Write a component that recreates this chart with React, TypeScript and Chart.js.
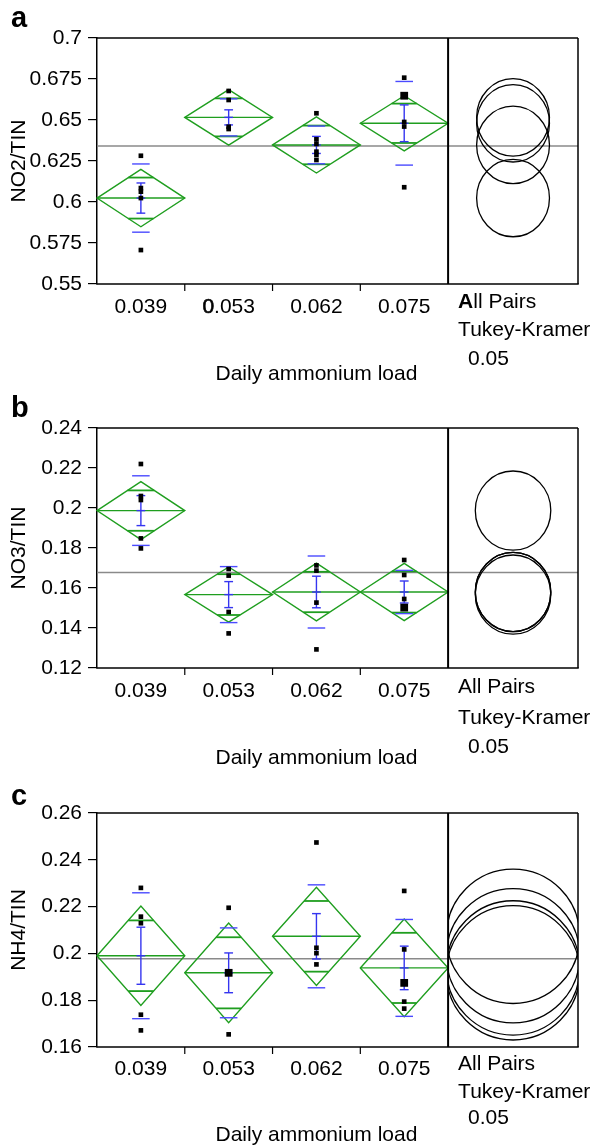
import React, { useEffect, useRef } from 'react';
import { Chart, registerables } from 'chart.js';
Chart.register(...registerables);

const FONT = '"Liberation Sans", Arial, Helvetica, sans-serif';
const FS = 21;

const loads = ['0.039', '0.053', '0.062', '0.075'];
const pairsLabels = ['All Pairs', 'Tukey-Kramer', '0.05'];
const xTitle = 'Daily ammonium load';

// ---- Panel a : NO2/TIN ----
const no2Ticks = [0.55, 0.575, 0.6, 0.625, 0.65, 0.675, 0.7];
const no2Points = [
  [0.6282, 0.6085, 0.6063, 0.6024, 0.5707],
  [0.6677, 0.6622, 0.6459, 0.6445],
  [0.6541, 0.6382, 0.6354, 0.6307, 0.6287, 0.6256],
  [0.6758, 0.6648, 0.6648, 0.6488, 0.646, 0.609],
];
const no2Mean = [0.6024, 0.6516, 0.6348, 0.648];
const no2CI = [0.0175, 0.0169, 0.0171, 0.0168];
const no2Overlap = [0.0125, 0.0116, 0.0118, 0.012];
const no2SE = [0.0092, 0.0046, 0.0052, 0.0112];
const no2SD = [0.0208, 0.0113, 0.0115, 0.0255];
const no2Grand = 0.6341;
const no2CircleR = 0.0236;

// ---- Panel b : NO3/TIN ----
const no3Ticks = [0.12, 0.14, 0.16, 0.18, 0.2, 0.22, 0.24];
const no3Points = [
  [0.222, 0.206, 0.204, 0.1848, 0.1798],
  [0.1695, 0.1662, 0.148, 0.1373],
  [0.1713, 0.1687, 0.1527, 0.1293],
  [0.174, 0.1665, 0.1545, 0.1502, 0.1502],
];
const no3Mean = [0.1987, 0.1567, 0.158, 0.158];
const no3CI = [0.0145, 0.0138, 0.0144, 0.0143];
const no3Overlap = [0.0101, 0.0102, 0.0101, 0.0103];
const no3SE = [0.0075, 0.0065, 0.0079, 0.0055];
const no3SD = [0.0174, 0.014, 0.018, 0.0108];
const no3Grand = 0.1678;
const no3CircleR = 0.0198;

// ---- Panel c : NH4/TIN ----
const nh4Ticks = [0.16, 0.18, 0.2, 0.22, 0.24, 0.26];
const nh4Points = [
  [0.228, 0.2157, 0.2129, 0.1738, 0.1671],
  [0.2195, 0.1917, 0.1917, 0.1654],
  [0.2474, 0.2024, 0.2001, 0.1953],
  [0.2267, 0.2017, 0.1874, 0.1874, 0.1794, 0.1764],
];
const nh4Mean = [0.199, 0.1917, 0.2073, 0.1938];
const nh4CI = [0.0212, 0.0213, 0.021, 0.0209];
const nh4Overlap = [0.0151, 0.0152, 0.0151, 0.015];
const nh4SE = [0.0122, 0.0085, 0.0097, 0.0093];
const nh4SD = [0.0269, 0.0192, 0.022, 0.0207];
const nh4Grand = 0.1977;
const nh4CircleR = 0.0287;

// layout constants
const CIRCLE_PANEL = 1.48; // width of comparison-circle panel in group units
const XMAX = 4 + CIRCLE_PANEL;
const CIRCLE_X = 4 + CIRCLE_PANEL / 2;

const GREEN = '#1f9e1f';
const BLUE = '#3535f0';

type Panel = {
  letter: string;
  title: string;
  ticks: number[];
  points: number[][];
  mean: number[];
  ci: number[];
  overlap: number[];
  se: number[];
  sd: number[];
  grand: number;
  circleR: number;
  circleRX: number;
  height: number;
  padTop: number;
  padBottom: number;
  textOffsets: number[];
  letterBase: number;
  boldFirst: boolean;
};

const panels: Panel[] = [
  {
    letter: 'a', title: 'NO2/TIN', ticks: no2Ticks, points: no2Points, mean: no2Mean, ci: no2CI,
    overlap: no2Overlap, se: no2SE, sd: no2SD, grand: no2Grand, circleR: no2CircleR, circleRX: 0.415,
    height: 390, padTop: 38, padBottom: 106, textOffsets: [23, 18, 46, 75, 90], letterBase: 27, boldFirst: true,
  },
  {
    letter: 'b', title: 'NO3/TIN', ticks: no3Ticks, points: no3Points, mean: no3Mean, ci: no3CI,
    overlap: no3Overlap, se: no3SE, sd: no3SD, grand: no3Grand, circleR: no3CircleR, circleRX: 0.43,
    height: 390, padTop: 38, padBottom: 112, textOffsets: [23, 19, 50, 79, 90], letterBase: 27, boldFirst: false,
  },
  {
    letter: 'c', title: 'NH4/TIN', ticks: nh4Ticks, points: nh4Points, mean: nh4Mean, ci: nh4CI,
    overlap: nh4Overlap, se: nh4SE, sd: nh4SD, grand: nh4Grand, circleR: nh4CircleR, circleRX: 0.76,
    height: 367, padTop: 33, padBottom: 100, textOffsets: [22, 17, 45, 71, 88], letterBase: 25, boldFirst: false,
  },
];

function line(ctx: CanvasRenderingContext2D, x1: number, y1: number, x2: number, y2: number) {
  ctx.beginPath();
  ctx.moveTo(x1, y1);
  ctx.lineTo(x2, y2);
  ctx.stroke();
}

// emph: 0 none, 1 = first char bold, 2 = first char slightly emphasised
function drawMixed(ctx: CanvasRenderingContext2D, text: string, emph: number, x: number, y: number, align: 'left' | 'center') {
  const n = emph ? 1 : 0;
  const first = text.slice(0, n);
  const rest = text.slice(n);
  const firstFont = emph === 1 ? `bold ${FS}px ${FONT}` : `${FS}px ${FONT}`;
  ctx.font = firstFont;
  const wb = ctx.measureText(first).width;
  ctx.font = `${FS}px ${FONT}`;
  const wr = ctx.measureText(rest).width;
  const sx = align === 'center' ? x - (wb + wr) / 2 : x;
  ctx.textAlign = 'left';
  ctx.font = firstFont;
  ctx.fillText(first, sx, y);
  if (emph === 2) {
    ctx.save();
    ctx.strokeStyle = '#000';
    ctx.lineWidth = 0.6;
    ctx.strokeText(first, sx, y);
    ctx.restore();
  }
  ctx.font = `${FS}px ${FONT}`;
  ctx.fillText(rest, sx + wb, y);
}

function makePlugin(p: Panel) {
  return {
    id: 'panel_' + p.letter,
    beforeDatasetsDraw(chart: any) {
      const { ctx, chartArea: ca } = chart;
      const x = chart.scales.x, y = chart.scales.y;
      const px = (v: number) => x.getPixelForValue(v);
      const py = (v: number) => y.getPixelForValue(v);
      ctx.save();
      // grand mean
      ctx.strokeStyle = '#8a8a8a';
      ctx.lineWidth = 1.5;
      line(ctx, ca.left, py(p.grand), ca.right, py(p.grand));
      for (let i = 0; i < p.mean.length; i++) {
        const cx = i + 0.5;
        const m = p.mean[i], c = p.ci[i], o = p.overlap[i];
        ctx.strokeStyle = GREEN;
        ctx.lineWidth = 1.4;
        ctx.beginPath();
        ctx.moveTo(px(i), py(m));
        ctx.lineTo(px(cx), py(m + c));
        ctx.lineTo(px(i + 1), py(m));
        ctx.lineTo(px(cx), py(m - c));
        ctx.closePath();
        ctx.stroke();
        line(ctx, px(i), py(m), px(i + 1), py(m));
        const w = 0.5 * (1 - o / c);
        ctx.lineWidth = 1.8;
        line(ctx, px(cx - w), py(m + o), px(cx + w), py(m + o));
        line(ctx, px(cx - w), py(m - o), px(cx + w), py(m - o));
        // error bars
        ctx.strokeStyle = BLUE;
        ctx.lineWidth = 1.4;
        line(ctx, px(cx), py(m - p.se[i]), px(cx), py(m + p.se[i]));
        line(ctx, px(cx - 0.05), py(m + p.se[i]), px(cx + 0.05), py(m + p.se[i]));
        line(ctx, px(cx - 0.05), py(m - p.se[i]), px(cx + 0.05), py(m - p.se[i]));
        line(ctx, px(cx - 0.05), py(m), px(cx + 0.05), py(m));
        ctx.strokeStyle = '#4a4aff';
        line(ctx, px(cx - 0.1), py(m + p.sd[i]), px(cx + 0.1), py(m + p.sd[i]));
        line(ctx, px(cx - 0.1), py(m - p.sd[i]), px(cx + 0.1), py(m - p.sd[i]));
      }
      ctx.restore();
    },
    afterDatasetsDraw(chart: any) {
      const { ctx, chartArea: ca } = chart;
      const x = chart.scales.x, y = chart.scales.y;
      const px = (v: number) => x.getPixelForValue(v);
      const py = (v: number) => y.getPixelForValue(v);
      ctx.save();
      // comparison circles
      ctx.save();
      ctx.beginPath();
      ctx.rect(px(4), ca.top, ca.right - px(4), ca.bottom - ca.top);
      ctx.clip();
      ctx.strokeStyle = '#000';
      ctx.lineWidth = 1.3;
      const rx = px(CIRCLE_X + p.circleRX) - px(CIRCLE_X);
      for (let i = 0; i < p.mean.length; i++) {
        const ry = py(p.mean[i]) - py(p.mean[i] + p.circleR);
        ctx.beginPath();
        ctx.ellipse(px(CIRCLE_X), py(p.mean[i]), rx, ry, 0, 0, Math.PI * 2);
        ctx.stroke();
      }
      ctx.restore();
      // frame
      ctx.strokeStyle = '#000';
      ctx.lineWidth = 1.5;
      line(ctx, ca.left, ca.top, ca.right, ca.top);
      line(ctx, ca.right, ca.top, ca.right, ca.bottom);
      line(ctx, ca.left - 0.75, ca.bottom, ca.right + 0.75, ca.bottom);
      ctx.lineWidth = 2;
      line(ctx, px(4), ca.top, px(4), ca.bottom);
      ctx.lineWidth = 1.2;
      for (let i = 1; i < 4; i++) line(ctx, px(i), ca.bottom, px(i), ca.bottom + 7);
      // texts
      ctx.fillStyle = '#000';
      ctx.textBaseline = 'middle';
      const [tOff, a1, a2, a3, tt] = p.textOffsets;
      loads.forEach((l, i) => {
        drawMixed(ctx, l, p.boldFirst && i === 1 ? 2 : 0, px(i + 0.5), ca.bottom + tOff, 'center');
      });
      drawMixed(ctx, pairsLabels[0], p.boldFirst ? 1 : 0, px(4) + 10, ca.bottom + a1, 'left');
      drawMixed(ctx, pairsLabels[1], 0, px(4) + 10, ca.bottom + a2, 'left');
      drawMixed(ctx, pairsLabels[2], 0, px(4) + 20, ca.bottom + a3, 'left');
      drawMixed(ctx, xTitle, 0, px(2.5), ca.bottom + tt, 'center');
      // y title
      ctx.save();
      ctx.translate(19, (ca.top + ca.bottom) / 2);
      ctx.rotate(-Math.PI / 2);
      ctx.font = `${FS}px ${FONT}`;
      ctx.textAlign = 'center';
      ctx.fillText(p.title, 0, 0);
      ctx.restore();
      // panel letter
      ctx.font = `bold 29px ${FONT}`;
      ctx.textAlign = 'left';
      ctx.textBaseline = 'alphabetic';
      ctx.fillText(p.letter, 11, p.letterBase);
      ctx.restore();
    },
  };
}

function buildChart(canvas: HTMLCanvasElement, p: Panel) {
  const data: { x: number; y: number }[] = [];
  const radii: number[] = [];
  p.points.forEach((vals, i) => {
    const counts = new Map<number, number>();
    vals.forEach((v) => counts.set(v, (counts.get(v) || 0) + 1));
    counts.forEach((n, v) => {
      data.push({ x: i + 0.5, y: v });
      radii.push(n > 1 ? 5.5 : 3.3);
    });
  });
  const ymin = p.ticks[0], ymax = p.ticks[p.ticks.length - 1];
  return new Chart(canvas, {
    type: 'scatter',
    data: {
      datasets: [
        {
          data,
          pointStyle: 'rect',
          pointRadius: radii,
          pointBackgroundColor: '#000',
          pointBorderWidth: 0,
          borderWidth: 0,
        } as any,
      ],
    },
    options: {
      animation: false,
      responsive: false,
      devicePixelRatio: 1,
      events: [],
      layout: { padding: { left: 0, top: p.padTop, right: 20, bottom: p.padBottom } },
      plugins: { legend: { display: false }, tooltip: { enabled: false }, title: { display: false } },
      scales: {
        x: { type: 'linear', min: 0, max: XMAX, display: false },
        y: {
          type: 'linear',
          min: ymin,
          max: ymax,
          afterFit: (s: any) => { s.width = 97; },
          afterBuildTicks: (s: any) => { s.ticks = p.ticks.map((v) => ({ value: v })); },
          ticks: {
            callback: (v: any) => String(v),
            font: { family: FONT, size: FS },
            color: '#000',
            padding: 6,
          },
          grid: { drawOnChartArea: false, drawTicks: true, tickLength: 9, color: '#000', lineWidth: 1.2 },
          border: { display: true, color: '#000', width: 1.5 },
        },
      },
    } as any,
    plugins: [makePlugin(p)],
  });
}

export default function App() {
  const r1 = useRef<HTMLCanvasElement>(null);
  const r2 = useRef<HTMLCanvasElement>(null);
  const r3 = useRef<HTMLCanvasElement>(null);
  useEffect(() => {
    const refs = [r1, r2, r3];
    const charts = panels.map((p, i) => buildChart(refs[i].current as HTMLCanvasElement, p));
    return () => charts.forEach((c) => c.destroy());
  }, []);
  let top = 0;
  const tops = panels.map((p) => { const t = top; top += p.height; return t; });
  const refs = [r1, r2, r3];
  return (
    <div style={{ position: 'absolute', left: 0, top: 0, width: 598, height: 1147, background: '#fff' }}>
      {panels.map((p, i) => (
        <canvas
          key={p.letter}
          ref={refs[i]}
          width={598}
          height={p.height}
          style={{ position: 'absolute', left: 0, top: tops[i], width: 598, height: p.height }}
        />
      ))}
    </div>
  );
}
